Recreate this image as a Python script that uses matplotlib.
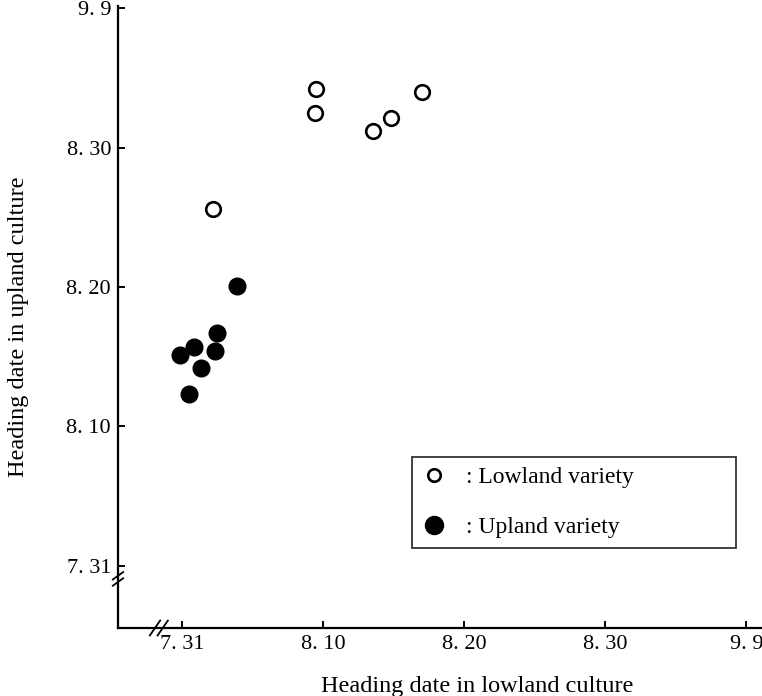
import matplotlib
matplotlib.use("Agg")
import matplotlib.pyplot as plt
from matplotlib.ticker import FixedLocator, FixedFormatter

plt.rcParams['font.family'] = ['Liberation Serif', 'DejaVu Serif']

# Days counted from July 31
tick_days = [0, 10, 20, 30, 40]
tick_labels = ["7. 31", "8. 10", "8. 20", "8. 30", "9. 9"]

lowland_x = [2.2, 9.5, 9.4, 13.5, 14.8, 17.0]
lowland_y = [25.6, 34.2, 32.5, 31.2, 32.1, 34.0]

upland_x = [3.9, 2.5, 2.3, 0.85, -0.15, 1.3, 0.45]
upland_y = [20.1, 16.7, 15.4, 15.7, 15.1, 14.2, 12.3]

W, H = 762, 696
fig = plt.figure(figsize=(W / 100, H / 100), dpi=100)
ax = fig.add_axes([118 / W, (H - 628) / H, 644 / W, 622 / H])

ax.set_xlim(-4.55, 41.1)
ax.set_ylim(-4.45, 40.15)

ax.plot(lowland_x, lowland_y, linestyle='none', marker='o', markersize=10.5,
        markerfacecolor='white', markeredgecolor='black', markeredgewidth=1.9,
        label=': Lowland variety', clip_on=False)
ax.plot(upland_x, upland_y, linestyle='none', marker='o', markersize=12,
        markerfacecolor='black', markeredgecolor='black',
        label=': Upland variety', clip_on=False)

for s in ['top', 'right']:
    ax.spines[s].set_visible(False)
for s in ['left', 'bottom']:
    ax.spines[s].set_linewidth(1.6)

ax.xaxis.set_major_locator(FixedLocator(tick_days))
ax.xaxis.set_major_formatter(FixedFormatter(tick_labels))
ax.yaxis.set_major_locator(FixedLocator(tick_days))
ax.yaxis.set_major_formatter(FixedFormatter(tick_labels))
ax.tick_params(direction='in', length=5, width=1.4, labelsize=16, pad=5)

ax.set_xlabel('Heading date in lowland culture', fontsize=17.5)
ax.set_ylabel('Heading date in upland culture', fontsize=17.5)
ax.xaxis.set_label_coords((477 - 118) / 644, (628 - 676) / 622)
ax.yaxis.set_label_coords((29 - 118) / 644, (628 - 327) / 622)

# axis break marks
kw = dict(color='black', linewidth=1.3, clip_on=False, transform=ax.transAxes)
for dx in (0.0, 0.012):
    x0 = (155 - 118) / 644 + dx
    ax.plot([x0 - 0.008, x0 + 0.008], [-0.012, 0.012], **kw)
for dy in (0.0, 0.010):
    y0 = (628 - 582) / 622 + dy
    ax.plot([-0.008, 0.008], [y0 - 0.006, y0 + 0.006], **kw)

leg = ax.legend(loc='upper left', mode='expand',
                bbox_to_anchor=(412 / W, (H - 546) / H, 324 / W, 89 / H),
                bbox_transform=fig.transFigure, fontsize=17,
                frameon=True, fancybox=False, edgecolor='black',
                borderpad=0.42, labelspacing=1.2, handlelength=1.0,
                handletextpad=0.85, borderaxespad=0.0)
leg.get_frame().set_linewidth(1.3)
hs = leg.legend_handles
hs[0].set_markersize(9)
hs[1].set_markersize(13)

fig.savefig('out.png', dpi=100)
